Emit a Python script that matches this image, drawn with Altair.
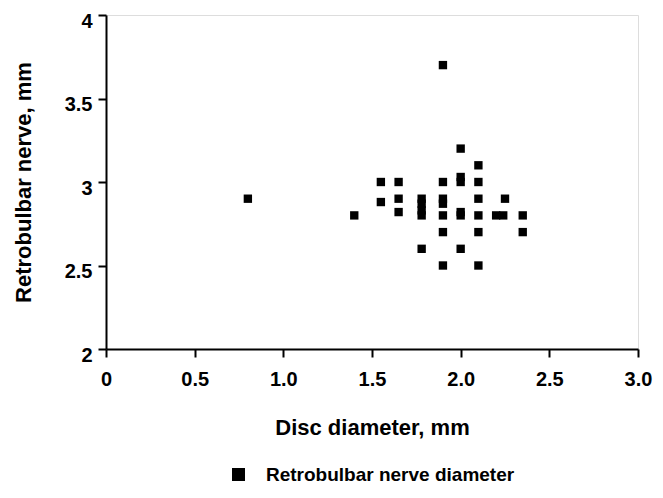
import altair as alt
import pandas as pd

disc_diameter = [0.8, 1.4, 1.55, 1.55, 1.65, 1.65, 1.65,
                 1.78, 1.78, 1.78, 1.78, 1.78,
                 1.9, 1.9, 1.9, 1.9, 1.9, 1.9, 1.9,
                 2.0, 2.0, 2.0, 2.0, 2.0, 2.0,
                 2.1, 2.1, 2.1, 2.1, 2.1, 2.1,
                 2.2, 2.24, 2.25, 2.35, 2.35]
nerve_diameter = [2.9, 2.8, 3.0, 2.88, 3.0, 2.9, 2.82,
                  2.9, 2.87, 2.83, 2.8, 2.6,
                  3.7, 3.0, 2.9, 2.87, 2.8, 2.7, 2.5,
                  3.2, 3.03, 3.0, 2.82, 2.8, 2.6,
                  3.1, 3.0, 2.9, 2.8, 2.7, 2.5,
                  2.8, 2.8, 2.9, 2.8, 2.7]
series_name = "Retrobulbar nerve diameter"
x_ticks = [0, 0.5, 1.0, 1.5, 2.0, 2.5, 3.0]
y_ticks = [2, 2.5, 3, 3.5, 4]

df = pd.DataFrame({"disc": disc_diameter, "nerve": nerve_diameter,
                   "series": [series_name] * len(disc_diameter)})

FONT = "Liberation Sans"

chart = alt.Chart(df).mark_square(size=70, opacity=1, color="black").encode(
    x=alt.X("disc:Q", scale=alt.Scale(domain=[0, 3], nice=False),
            axis=alt.Axis(title="Disc diameter, mm", values=x_ticks,
                          labelExpr="datum.value == 0 ? '0' : format(datum.value, '.1f')",
                          grid=False, tickSize=8, tickWidth=2, domainWidth=2,
                          domainColor="black", tickColor="black",
                          labelFont=FONT, labelFontSize=20, labelFontWeight="bold",
                          labelColor="black", labelPadding=12, labelFlush=False,
                          titleFont=FONT, titleFontSize=22, titleFontWeight="bold",
                          titleColor="black", titlePadding=28)),
    y=alt.Y("nerve:Q", scale=alt.Scale(domain=[2, 4], nice=False, zero=False),
            axis=alt.Axis(title="Retrobulbar nerve, mm", values=y_ticks,
                          labelExpr="'' + datum.value",
                          grid=False, tickSize=8, tickWidth=2, domainWidth=2,
                          domainColor="black", tickColor="black",
                          labelFont=FONT, labelFontSize=20, labelFontWeight="bold",
                          labelColor="black", labelPadding=6, labelFlush=False,
                          labelOffset=6,
                          titleFont=FONT, titleFontSize=22, titleFontWeight="bold",
                          titleColor="black", titlePadding=29)),
    color=alt.Color("series:N", scale=alt.Scale(range=["black"]),
                    legend=alt.Legend(title=None, orient="none", legendX=123, legendY=450,
                                      symbolType="square", symbolSize=169,
                                      symbolStrokeWidth=0, symbolFillColor="black",
                                      labelFont=FONT, labelFontSize=19,
                                      labelFontWeight="bold", labelColor="black",
                                      labelOffset=18, labelLimit=0)),
).properties(
    width=532, height=334,
    autosize=alt.AutoSizeParams(type="none"),
    padding={"left": 98, "top": 7, "right": 17, "bottom": 140},
).configure_view(stroke=None).configure(background="white")

chart.save("out.html", embed_options={"renderer": "svg", "actions": False})
